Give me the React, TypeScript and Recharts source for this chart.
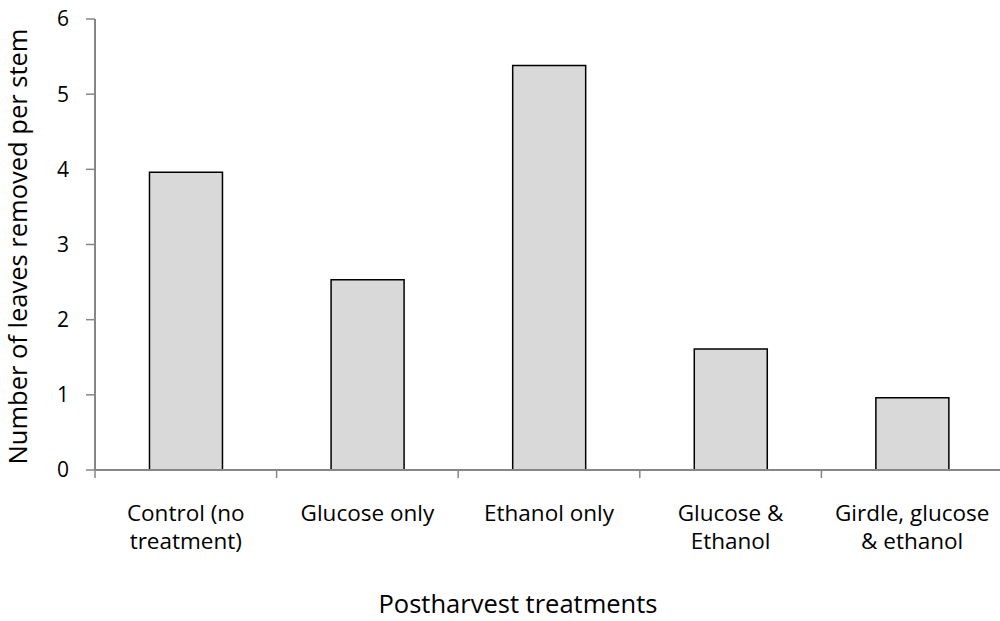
import React from "react";
import { BarChart, Bar, XAxis, YAxis } from "recharts";

const categories = [
  "Control (no|treatment)",
  "Glucose only",
  "Ethanol only",
  "Glucose &|Ethanol",
  "Girdle, glucose|& ethanol",
];
const leavesRemoved = [3.96, 2.53, 5.38, 1.61, 0.96];
const yTicks = [0, 1, 2, 3, 4, 5, 6];
const xTitle = "Postharvest treatments";
const yTitle = "Number of leaves removed per stem";

const data = categories.map((c, i) => ({ name: c, value: leavesRemoved[i] }));

const FONT = "'Open Sans', sans-serif";
const AXIS = "#868686";

const XTick = (props: any) => {
  const { x, y, payload, index, visibleTicksCount, width } = props;
  const half = payload && payload.offset ? payload.offset : width / visibleTicksCount / 2;
  const lines = String(payload.value).split("|");
  return (
    <g>
      <line x1={x - half} x2={x - half} y1={y} y2={y + 8} stroke={AXIS} strokeWidth={1.5} />
      {index === visibleTicksCount - 1 && (
        <line x1={x + half} x2={x + half} y1={y} y2={y + 8} stroke={AXIS} strokeWidth={1.5} />
      )}
      <text x={x} y={y} textAnchor="middle" fontFamily={FONT} fontSize={22.5} fill="#000">
        {lines.map((l, i) => (
          <tspan key={i} x={x} dy={i === 0 ? 51 : 28}>
            {l}
          </tspan>
        ))}
      </text>
    </g>
  );
};

const YTitle = (props: any) => {
  const vb = props.viewBox || {};
  const cy = vb.y + vb.height / 2;
  return (
    <text
      transform={`translate(27, ${cy + 2}) rotate(-90)`}
      textAnchor="middle"
      fontFamily={FONT}
      fontSize={25.5}
      fill="#000"
    >
      {yTitle}
    </text>
  );
};

const XTitle = (props: any) => {
  const vb = props.viewBox || {};
  return (
    <text
      x={vb.x + vb.width / 2 - 31}
      y={613}
      textAnchor="middle"
      fontFamily={FONT}
      fontSize={25.5}
      fill="#000"
    >
      {xTitle}
    </text>
  );
};

export default function App() {
  return (
    <div
      style={{
        position: "absolute",
        left: 0,
        top: 0,
        width: 1000,
        height: 621,
        overflow: "hidden",
        background: "#fff",
      }}
    >
      <BarChart
        width={1010}
        height={621}
        data={data}
        margin={{ top: 19, right: 7, bottom: 0, left: 0 }}
        barCategoryGap="30%"
      >
        <XAxis
          dataKey="name"
          height={151}
          axisLine={{ stroke: AXIS, strokeWidth: 2 }}
          tickLine={false}
          tickSize={0}
          tickMargin={0}
          interval={0}
          tick={<XTick />}
          label={<XTitle />}
        />
        <YAxis
          width={95}
          domain={[0, 6]}
          ticks={yTicks}
          interval={0}
          axisLine={{ stroke: AXIS, strokeWidth: 2 }}
          tickLine={{ stroke: AXIS, strokeWidth: 1.5 }}
          tickSize={9}
          tickMargin={17}
          tick={{ fontFamily: FONT, fontSize: 21, fill: "#000" }}
          label={<YTitle />}
        />
        <Bar
          dataKey="value"
          fill="#d9d9d9"
          stroke="#000"
          strokeWidth={1.5}
          isAnimationActive={false}
        />
      </BarChart>
    </div>
  );
}
